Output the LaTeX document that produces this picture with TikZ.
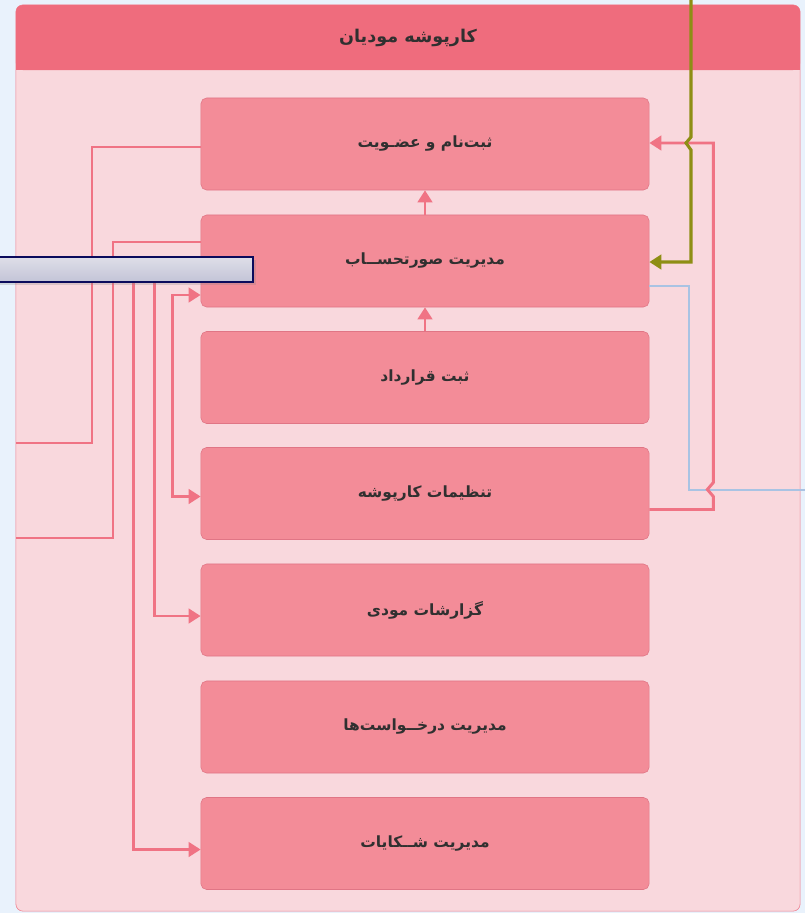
\documentclass[tikz,border=0pt]{standalone}
\usepackage{fontspec}
\usepackage{tikz}
\usetikzlibrary{positioning}
\usetikzlibrary{calc}
\usetikzlibrary{arrows.meta}
\usetikzlibrary{shadows}
\newfontfamily\farsifont[Script=Arabic]{DejaVu Sans}
\TeXXeTstate=1
\definecolor{pagebg}{HTML}{E9F2FC}
\definecolor{panelbg}{HTML}{F9D8DD}
\definecolor{panelhead}{HTML}{EF6C7D}
\definecolor{paneledge}{HTML}{F07A8A}
\definecolor{modfill}{HTML}{F38C98}
\definecolor{modedge}{HTML}{E07585}
\definecolor{linkpink}{HTML}{F07384}
\definecolor{linkolive}{HTML}{8E8E14}
\definecolor{linkblue}{HTML}{A9C3E3}
\definecolor{labeltext}{HTML}{303030}
\definecolor{barnavy}{HTML}{0B0B5C}
\definecolor{bartop}{HTML}{DEDEE8}
\definecolor{barbottom}{HTML}{C3C4D7}
\tikzset{>={Triangle[length=0.3cm,width=0.36cm]}}
\tikzset{panel/.style={draw=paneledge, fill=panelbg, rounded corners=5pt, minimum width=19.6cm, minimum height=22.65cm, inner sep=0pt}}
\tikzset{head/.style={fill=panelhead, rounded corners=5pt, minimum width=19.6cm, minimum height=1.625cm, inner sep=0pt}}
\tikzset{title/.style={font=\farsifont\bfseries\fontsize{12.5}{14}\selectfont, text=labeltext}}
\tikzset{module/.style={draw=modedge, fill=modfill, rounded corners=4pt, minimum width=11.2cm, minimum height=2.3cm, inner sep=0pt, font=\farsifont\bfseries\fontsize{11}{13}\selectfont, text=labeltext}}
\tikzset{link/.style={linkpink, line width=2.1pt}}
\tikzset{link olive/.style={linkolive, line width=2.2pt}}
\tikzset{link blue/.style={linkblue, line width=1.6pt}}
\tikzset{tipbar/.style={draw=barnavy, line width=1.2pt, top color=bartop, bottom color=barbottom, minimum width=6.45cm, minimum height=0.625cm, inner sep=0pt, drop shadow={opacity=0.25}}}

\begin{document}
\begin{tikzpicture}[x=0.025cm, y=-0.025cm]

    \fill [pagebg] (0,0) rectangle (805,913);
    \useasboundingbox (0,0) rectangle (805,913);
    \clip (0,0) rectangle (805,913);

    % Panel
    \node [panel] (panel) at (408,458) {};
    \node [head] (head) at (408,37.5) {};
    \fill [panelhead] (head.west) rectangle (head.south east);
    \node [title] (heading) at (head) {\beginR کارپوشه مودیان\endR};

    % Nodes
    \node [module] (mod1) at (425,144) {\beginR ثبت^^^^200cنام و عضـویت\endR};
    \node [module] (mod2) at ($(mod1) + (0,117)$) {\beginR مدیریت صورتحســاب\endR};
    \node [module] (mod3) at ($(mod2) + (0,116.5)$) {\beginR ثبت قرارداد\endR};
    \node [module] (mod4) at ($(mod3) + (0,116)$) {\beginR تنظیمات کارپوشه\endR};
    \node [module] (mod5) at ($(mod4) + (0,116.5)$) {\beginR گزارشات مودی\endR};
    \node [module] (mod6) at ($(mod5) + (0,117)$) {\beginR مدیریت درخــواست^^^^200cها\endR};
    \node [module] (mod7) at ($(mod6) + (0,116.5)$) {\beginR مدیریت شــکایات\endR};

    % Arrows between nodes
    \draw [link,->] (mod2.north) -- (mod1.south);
    \draw [link,->] (mod3.north) -- (mod2.south);

    % Left side
    \coordinate (reg-out) at (92,443);
    \coordinate (inv-out) at (113,538);
    \draw [link] ($(mod1.west) + (0,3)$) -| (reg-out) -- (reg-out -| panel.west);
    \draw [link] ($(mod2.west) + (0,-19)$) -| (inv-out) -- (inv-out -| panel.west);
    \draw [link,->] ($(mod2.west) + (0,9)$) -- ++(-67,0) |- ($(mod7.west) + (0,6)$);
    \draw [link,->] ($(mod2.west) + (0,9)$) -- ++(-46,0) |- ($(mod5.west) + (0,6)$);
    \draw [link,<->] ($(mod2.west) + (0,34)$) -- ++(-28,0) |- ($(mod4.west) + (0,3)$);

    % Right side
    \coordinate (olive-top) at (691,0);
    \coordinate (blue-out) at (805,490);
    \draw [link blue] ($(mod2.east) + (0,25)$) -- ++(40,0) |- (blue-out);
    \draw [link,->] ($(mod4.east) + (0,16)$) -- ++(64,0) -- ++(0,-13) -- ++(-6,-7) -- ++(6,-7) |- ($(mod1.east) + (0,-1)$);
    \draw [link olive,->] (olive-top) -- ++(0,137) -- ++(-5,6) -- ++(5,7) |- ($(mod2.east) + (0,1)$);

    % Bar over the left lines
    \node [tipbar] (tipbar) at (124,269.5) {};

\end{tikzpicture}
\end{document}
